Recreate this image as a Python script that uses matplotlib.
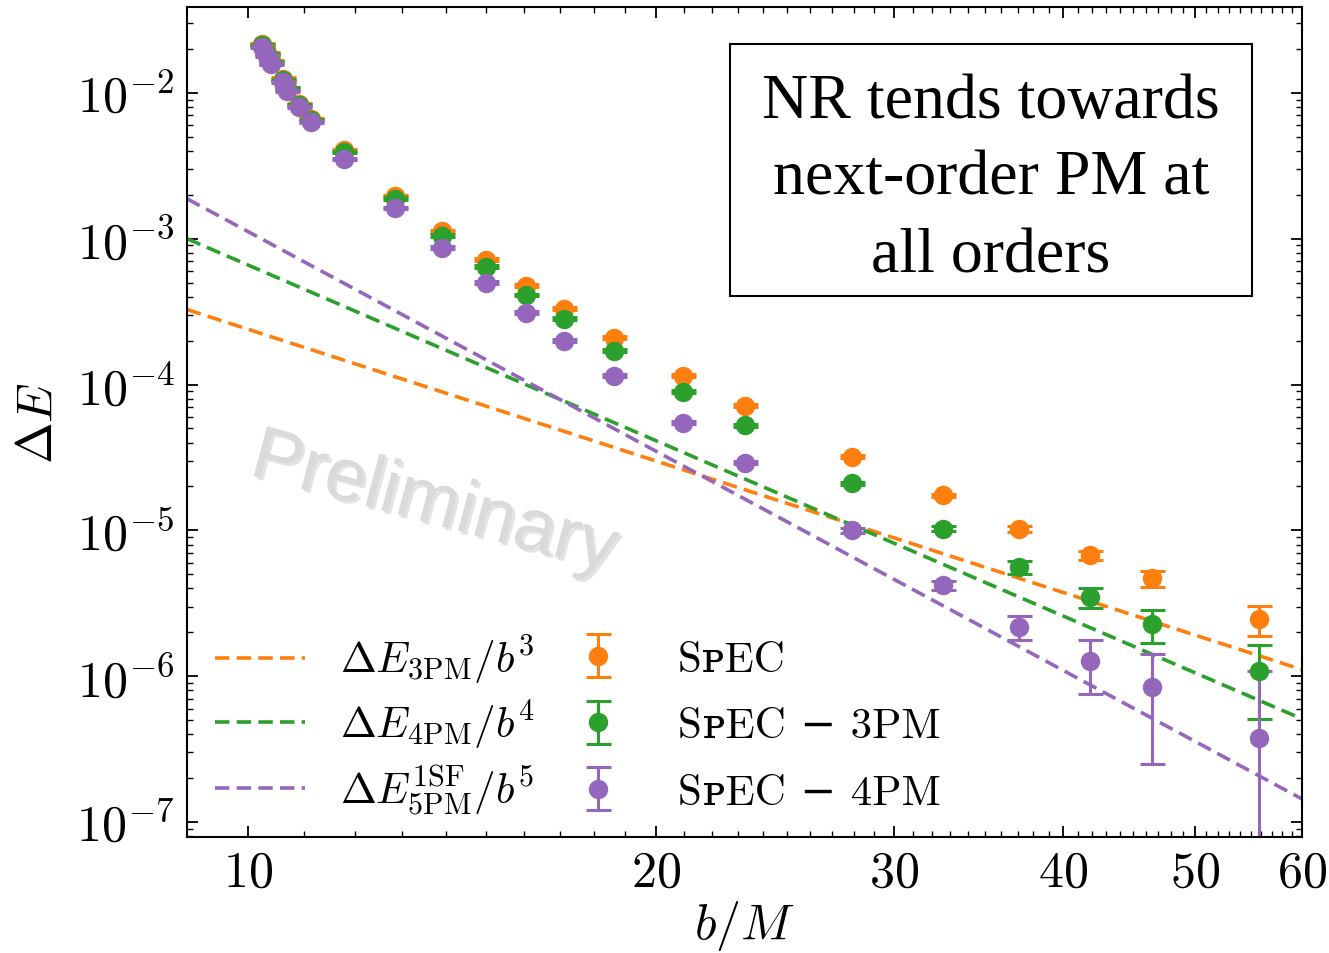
import numpy as np
import matplotlib
matplotlib.use("Agg")
import matplotlib.pyplot as plt
import matplotlib.patheffects as pe
from matplotlib.patches import Rectangle
from matplotlib.ticker import NullFormatter

plt.rcParams['mathtext.fontset'] = 'cm'
plt.rcParams['font.family'] = ['cmr10', 'DejaVu Serif', 'DejaVu Sans']
plt.rcParams['axes.formatter.use_mathtext'] = True

# impact parameter b/M
b = [10.24, 10.33, 10.40, 10.61, 10.70, 10.92, 11.14, 11.77, 12.85, 13.92, 14.99,
     16.04, 17.11, 18.65, 20.97, 23.27, 27.92, 32.57, 37.11, 41.86, 46.49, 55.73]

# SpEC
dE_spec = [2.17e-2, 1.88e-2, 1.66e-2, 1.25e-2, 1.08e-2, 8.41e-3, 6.64e-3, 4.07e-3,
           1.97e-3, 1.13e-3, 7.18e-4, 4.77e-4, 3.32e-4, 2.10e-4, 1.15e-4, 7.18e-5,
           3.21e-5, 1.74e-5, 1.03e-5, 6.74e-6, 4.69e-6, 2.46e-6]
err_spec = [4e-4, 4e-4, 3e-4, 2.5e-4, 2e-4, 1.7e-4, 1.3e-4, 8e-5, 4e-5, 2e-5, 1.4e-5,
            9e-6, 6e-6, 4e-6, 2.5e-6, 1.5e-6, 6e-7, 4e-7, 5e-7, 4.7e-7, 6e-7, 5.65e-7]

# SpEC - 3PM
dE_m3 = [2.13e-2, 1.85e-2, 1.63e-2, 1.23e-2, 1.07e-2, 8.28e-3, 6.53e-3, 3.94e-3,
         1.88e-3, 1.05e-3, 6.43e-4, 4.13e-4, 2.83e-4, 1.71e-4, 8.96e-5, 5.24e-5,
         2.10e-5, 1.03e-5, 5.58e-6, 3.48e-6, 2.27e-6, 1.08e-6]
err_m3 = [4e-4, 4e-4, 3e-4, 2.5e-4, 2e-4, 1.7e-4, 1.3e-4, 8e-5, 4e-5, 2e-5, 1.3e-5,
          8e-6, 6e-6, 3.5e-6, 2e-6, 1.2e-6, 6e-7, 4e-7, 5.4e-7, 5.4e-7, 5.8e-7, 5.7e-7]

# SpEC - 4PM
dE_m4 = [2.07e-2, 1.79e-2, 1.58e-2, 1.19e-2, 1.03e-2, 8.02e-3, 6.33e-3, 3.53e-3,
         1.63e-3, 8.68e-4, 5.00e-4, 3.11e-4, 2.00e-4, 1.15e-4, 5.49e-5, 2.92e-5,
         1.00e-5, 4.20e-6, 2.17e-6, 1.27e-6, 8.41e-7, 3.76e-7]
err_m4 = [4e-4, 4e-4, 3e-4, 2.5e-4, 2e-4, 1.6e-4, 1.3e-4, 7e-5, 3e-5, 1.7e-5, 1e-5,
          6e-6, 4e-6, 2.5e-6, 1.2e-6, 7e-7, 4e-7, 3e-7, 4e-7, 5.1e-7, 5.9e-7, 7.06e-7]

# PM predictions (straight lines in log-log, read at the two ends)
b_line = [9.02, 60.0]
pm3_line = [3.27e-4, 1.11e-6]
pm4_line = [1.0e-3, 5.1e-7]
pm5_line = [1.88e-3, 1.44e-7]

xticks = [10, 20, 30, 40, 50, 60]
xticklabels = [r'$10$', r'$20$', r'$30$', r'$40$', r'$50$', r'$60$']
yticks = [1e-7, 1e-6, 1e-5, 1e-4, 1e-3, 1e-2]
yticklabels = [r'$10^{-7}$', r'$10^{-6}$', r'$10^{-5}$', r'$10^{-4}$', r'$10^{-3}$', r'$10^{-2}$']

line_labels = [r'$\Delta E_{\rm 3PM}/b^3$', r'$\Delta E_{\rm 4PM}/b^4$',
               r'$\Delta E^{\rm 1SF}_{\rm 5PM}/b^5$']
nr_labels = ['S\u1d18EC', 'S\u1d18EC \u2212 3PM', 'S\u1d18EC \u2212 4PM']

c_or, c_gr, c_pu = '#ff7f0e', '#2ca02c', '#9467bd'

fig = plt.figure(figsize=(13.29, 9.54), dpi=100)
ax = fig.add_axes([0.1407, 0.1216, 0.8390, 0.8700])
ax.set_xscale('log')
ax.set_yscale('log')

dash = (0, (4.0, 2.0))
l3, = ax.plot(b_line, pm3_line, ls=dash, color=c_or, lw=2.6)
l4, = ax.plot(b_line, pm4_line, ls=dash, color=c_gr, lw=2.6)
l5, = ax.plot(b_line, pm5_line, ls=dash, color=c_pu, lw=2.6)

ekw = dict(fmt='o', ms=13, capsize=9, elinewidth=2.2, capthick=2.2)
e1 = ax.errorbar(b, dE_spec, yerr=err_spec, color=c_or, **ekw)
e2 = ax.errorbar(b, dE_m3, yerr=err_m3, color=c_gr, **ekw)
e3 = ax.errorbar(b, dE_m4, yerr=err_m4, color=c_pu, **ekw)

ax.set_xlim(9.02, 60)
ax.set_ylim(7.9e-8, 3.88e-2)

ax.set_xticks(xticks, xticklabels)
ax.set_xticks([v for v in range(10, 60) if v not in xticks], minor=True)
ax.xaxis.set_minor_formatter(NullFormatter())
ax.set_yticks(yticks, yticklabels)

ax.tick_params(which='both', direction='in', top=True, right=True, labelsize=36)
ax.tick_params(which='major', length=8, width=1.3, pad=9)
ax.tick_params(which='minor', length=4.5, width=1.0)
for s in ax.spines.values():
    s.set_linewidth(1.5)

ax.set_xlabel(r'$b/M$', fontsize=36, labelpad=2)
ax.set_ylabel(r'$\Delta E$', fontsize=36, labelpad=10)

# two legends so each column gets its own row spacing
leg1 = ax.legend([l3, l4, l5], line_labels, loc='upper left',
                 bbox_to_anchor=(0.025, 0.2456), frameon=False, fontsize=31,
                 handlelength=2.1, handletextpad=0.8, labelspacing=0.26,
                 borderpad=0, borderaxespad=0)
ax.add_artist(leg1)
leg2 = ax.legend([e1, e2, e3], nr_labels, loc='upper left',
                 bbox_to_anchor=(0.328, 0.2366), frameon=False, fontsize=31,
                 handlelength=2.1, handletextpad=0.8, labelspacing=0.66,
                 borderpad=0, borderaxespad=0)

ax.text(0.721, 0.7928, 'NR tends towards\nnext-order PM at\nall orders',
        transform=ax.transAxes, ha='center', va='center', multialignment='center',
        family='Liberation Serif', fontsize=46, linespacing=1.44, zorder=6)
ax.add_patch(Rectangle((0.487, 0.6518), 0.468, 0.3036, transform=ax.transAxes,
                       fc='white', ec='black', lw=1.5, zorder=5))

ax.text(0.2215, 0.401, 'Preliminary', transform=ax.transAxes, rotation=-15,
        rotation_mode='anchor', ha='center', va='center', family='Liberation Sans',
        fontsize=54, color='#dadada', zorder=0,
        path_effects=[pe.withSimplePatchShadow(offset=(2, -2), shadow_rgbFace='#c8c8c8', alpha=0.5)])

fig.savefig('out.png', dpi=100)
